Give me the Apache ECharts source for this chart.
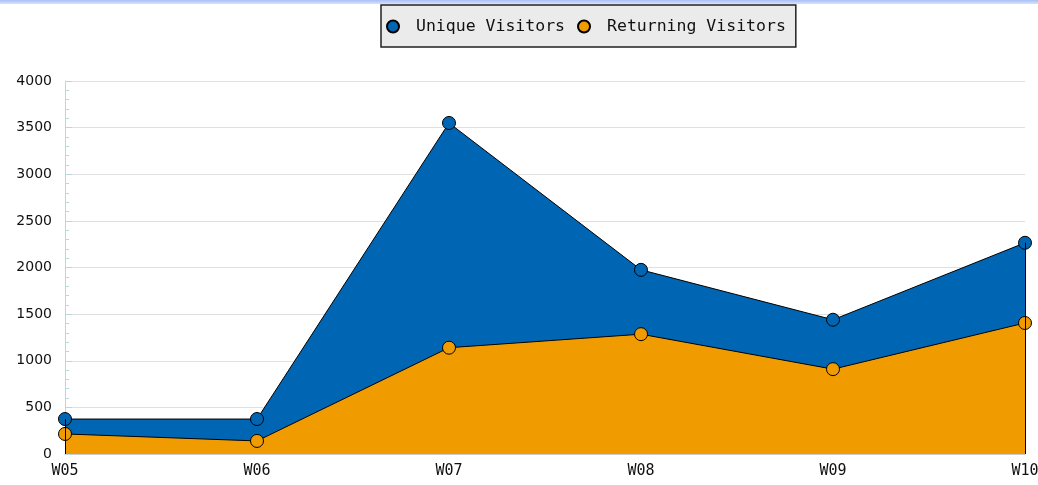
<!DOCTYPE html>
<html><head><meta charset="utf-8">
<script src="https://cdn.jsdelivr.net/npm/echarts@6/dist/echarts.min.js"></script>
<style>
html,body{margin:0;padding:0;background:#fff;overflow:hidden;}
#topbar{position:absolute;left:0;top:0;width:1038px;height:4px;background:linear-gradient(#a9bff5,#d8e2fb);}
#c{width:1038px;height:485px;}
</style></head><body>
<div id="c"></div><div id="topbar"></div>
<script>
var categories = ['W05','W06','W07','W08','W09','W10'];
var uniqueVisitors = [375, 375, 3550, 1975, 1440, 2265];
var returningVisitors = [215, 140, 1140, 1285, 910, 1405];
var yTicks = [0, 4000, 500];

var chart = echarts.init(document.getElementById('c'), null, {renderer:'canvas', width:1038, height:485});
function edge(data, i){
  return [{coord:[categories[i], 0]}, {coord:[categories[i], data[i]]}];
}
function s(name, data, color){
  var last = data.length - 1;
  return {
    name:name, type:'line', data:data,
    symbol:'circle', symbolSize:13,
    itemStyle:{color:color, borderColor:'#000', borderWidth:1},
    lineStyle:{color:'#000', width:1},
    areaStyle:{color:color, opacity:1},
    emphasis:{disabled:true},
    markLine:{
      silent:true, symbol:['none','none'], label:{show:false},
      lineStyle:{color:'#000', width:1, type:'solid'},
      data:[edge(data,0), edge(data,last)]
    }
  };
}
chart.setOption({
  animation:false,
  grid:{left:65, right:13, top:81, bottom:31, containLabel:false, outerBoundsMode:'none'},
  legend:{
    top:5, left:381,
    padding:[13,10,12,5],
    backgroundColor:'#ebebeb', borderColor:'#222', borderWidth:1.5,
    itemWidth:12, itemHeight:12, itemGap:12,
    textStyle:{fontFamily:'DejaVu Sans Mono', fontSize:16.5, color:'#111', padding:[0,0,0,12]},
    data:[{name:'Unique Visitors', icon:'circle'},{name:'Returning Visitors', icon:'circle'}]
  },
  xAxis:{
    type:'category', data:categories, boundaryGap:false,
    axisLine:{lineStyle:{color:'#cccccc'}},
    axisTick:{show:true, inside:true, lineStyle:{color:'#cccccc'}, length:6},
    axisLabel:{fontFamily:'DejaVu Sans Mono', fontSize:15, color:'#111', margin:10},
    splitLine:{show:false}
  },
  yAxis:{
    type:'value', min:yTicks[0], max:yTicks[1], interval:yTicks[2],
    axisLine:{show:true, lineStyle:{color:'#b7d9dc'}},
    axisTick:{show:true, inside:true, length:7, lineStyle:{color:'#b7d9dc'}},
    minorTick:{show:true, splitNumber:5, length:4, lineStyle:{color:'#b7d9dc'}},
    axisLabel:{fontFamily:'DejaVu Sans', fontSize:14, color:'#111', margin:13,
      formatter:function(v){return String(v);}},
    splitLine:{show:true, lineStyle:{color:'#e0e0e0'}}
  },
  series:[
    s('Unique Visitors', uniqueVisitors, '#0066b3'),
    s('Returning Visitors', returningVisitors, '#f09c00')
  ]
});
</script>
</body></html>
